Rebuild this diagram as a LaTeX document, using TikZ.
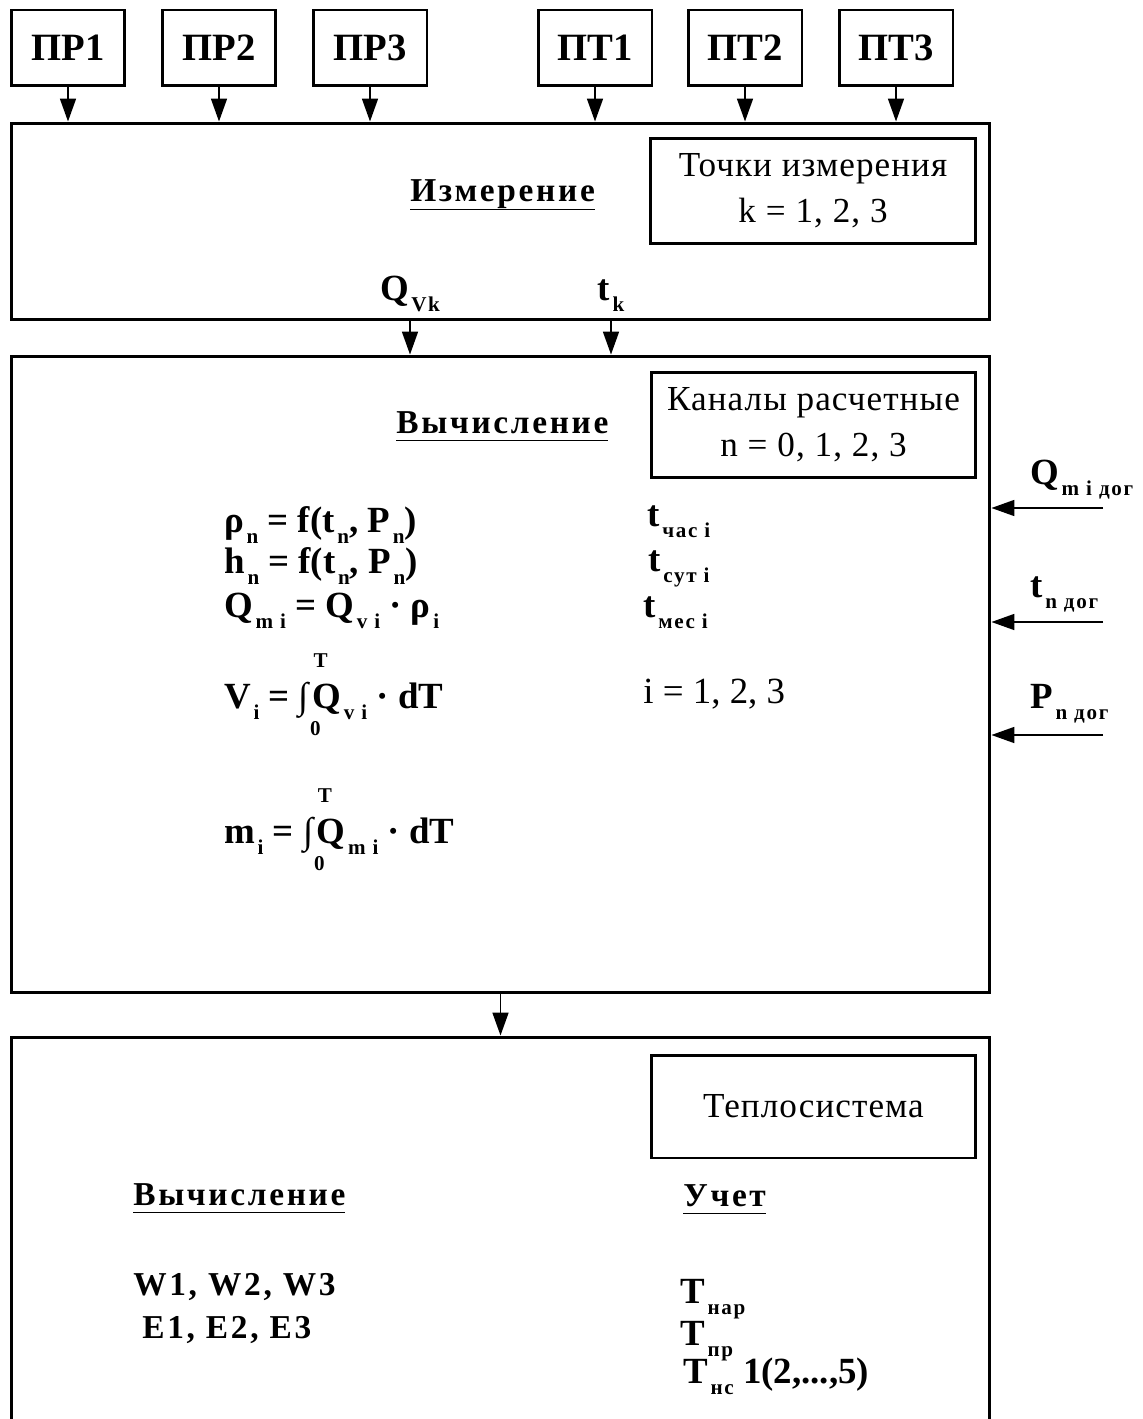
\documentclass[tikz,border=0pt]{standalone}
\usepackage{fontspec}
\setmainfont{Liberation Serif}
\newfontfamily\spaced[LetterSpace=8]{Liberation Serif}
\newfontfamily\lightspaced[LetterSpace=3]{Liberation Serif}
\usetikzlibrary{arrows.meta,positioning,calc}

% lowered small index
\newcommand{\sub}[1]{\kern1.5pt\raisebox{-6.5pt}{\spaced\fontsize{12}{14}\selectfont #1}}
% thick underline
\newcommand{\ulbl}[1]{\setbox0\hbox{#1}\rlap{\rule[-4.8pt]{\wd0}{1.1pt}}\box0}
% integral from 0 to T
\newcommand{\intT}{\makebox[0pt][l]{\hspace{0.4em}\raisebox{1.1em}{\fontsize{12}{14}\selectfont T}}\makebox[0pt][l]{\hspace{0.3em}\raisebox{-0.75em}{\fontsize{12}{14}\selectfont 0}}∫\kern2pt}

\begin{document}
\begin{tikzpicture}[x=0.02cm, y=-0.02cm,
  sensor/.style={draw, line width=1.7pt, minimum width=2.28cm, minimum height=1.52cm, inner sep=0pt, font=\bfseries\fontsize{22}{26}\selectfont},
  block/.style={draw, line width=1.7pt, minimum width=19.58cm, inner sep=0pt},
  panel/.style={draw, line width=1.7pt, minimum width=6.5cm, inner sep=0pt, align=center, font=\lightspaced\fontsize{20}{26}\selectfont},
  formula/.style={anchor=base west, inner sep=0pt, font=\bfseries\fontsize{21}{25}\selectfont},
  heading/.style={anchor=base west, inner sep=0pt, font=\spaced\bfseries\fontsize{19}{23}\selectfont},
  arr/.style={line width=1.1pt, -{Triangle[length=13pt,width=9pt]}}]
  \useasboundingbox (0,0) rectangle (1142,1419);
  \clip (0,0) rectangle (1142,1419);

  % Sensors
  \node[sensor] (pr1) at (68,48) {ПР1};
  \node[sensor] (pr2) at (219,48) {ПР2};
  \node[sensor] (pr3) at (370,48) {ПР3};
  \node[sensor] (pt1) at (595,48) {ПТ1};
  \node[sensor] (pt2) at (745,48) {ПТ2};
  \node[sensor] (pt3) at (896,48) {ПТ3};

  % Measurement block
  \node[block, minimum height=3.94cm] (izm) at (500.5,221.5) {};
  \node[heading] (izmlbl) at (410,202) {\ulbl{Измерение}};
  \node[panel, minimum height=2.12cm] (points) at (813,191) {Точки измерения\\k = 1, 2, 3};
  \node[formula, anchor=base] (qvk) at (410,300) {Q\sub{Vk}};
  \node[formula, anchor=base] (tk) at (611,300) {t\sub{k}};

  \draw[arr] (pr1.south) -- (pr1.south |- izm.north);
  \draw[arr] (pr2.south) -- (pr2.south |- izm.north);
  \draw[arr] (pr3.south) -- (pr3.south |- izm.north);
  \draw[arr] (pt1.south) -- (pt1.south |- izm.north);
  \draw[arr] (pt2.south) -- (pt2.south |- izm.north);
  \draw[arr] (pt3.south) -- (pt3.south |- izm.north);

  % Calculation block
  \node[block, minimum height=12.74cm] (vych) at (500.5,674.5) {};
  \node[heading] (vychlbl) at (396,433) {\ulbl{Вычисление}};
  \node[panel, minimum height=2.12cm] (channels) at (813.5,425) {Каналы расчетные\\n = 0, 1, 2, 3};

  \draw[arr] (izm.south -| qvk) -- (vych.north -| qvk);
  \draw[arr] (izm.south -| tk) -- (vych.north -| tk);

  \node[formula] (rho) at (224,532) {ρ\sub{n} = f(t\sub{n}, P\sub{n})};
  \node[formula] (enth) at (224,573) {h\sub{n} = f(t\sub{n}, P\sub{n})};
  \node[formula] (qm) at (224,617) {Q\sub{m i} = Q\sub{v i} · ρ\sub{i}};
  \node[formula] (vol) at (224,708) {V\sub{i} = \intT Q\sub{v i} · dT};
  \node[formula] (mass) at (224,843) {m\sub{i} = \intT Q\sub{m i} · dT};

  \node[formula] (thour) at (647,526) {t\sub{час i}};
  \node[formula] (tday) at (648,571) {t\sub{сут i}};
  \node[formula] (tmon) at (643,617) {t\sub{мес i}};
  \node[formula, font=\fontsize{21}{25}\selectfont] (iidx) at (643,703) {i = 1, 2, 3};

  % Contract values
  \coordinate (qin) at (1103,508);
  \coordinate (tin) at (1103,622);
  \coordinate (pin) at (1103,735);
  \draw[arr] (qin) -- (qin -| vych.east);
  \draw[arr] (tin) -- (tin -| vych.east);
  \draw[arr] (pin) -- (pin -| vych.east);
  \node[formula] (qdog) at (1030,484) {Q\sub{m i дог}};
  \node[formula] (tdog) at (1030,597) {t\sub{n дог}};
  \node[formula] (pdog) at (1030,708) {P\sub{n дог}};

  % Heat system block
  \node[block, minimum height=8.46cm] (heat) at (500.5,1248.5) {};
  \node[panel, minimum height=2.06cm] (system) at (813.5,1106.5) {Теплосистема};
  \draw[arr] (vych.south) -- (vych.south |- heat.north);

  \node[heading] (calclbl) at (133,1205) {\ulbl{Вычисление}};
  \node[heading] (acclbl) at (683,1206) {\ulbl{Учет}};
  \node[heading] (wlist) at (133,1295) {W1, W2, W3};
  \node[heading] (elist) at (142,1338) {E1, E2, E3};
  \node[formula] (tnar) at (680,1303) {T\sub{нар}};
  \node[formula] (tpr) at (680,1345) {T\sub{пр}};
  \node[formula] (tns) at (683,1383) {T\sub{нс} 1(2,...,5)};
\end{tikzpicture}
\end{document}
